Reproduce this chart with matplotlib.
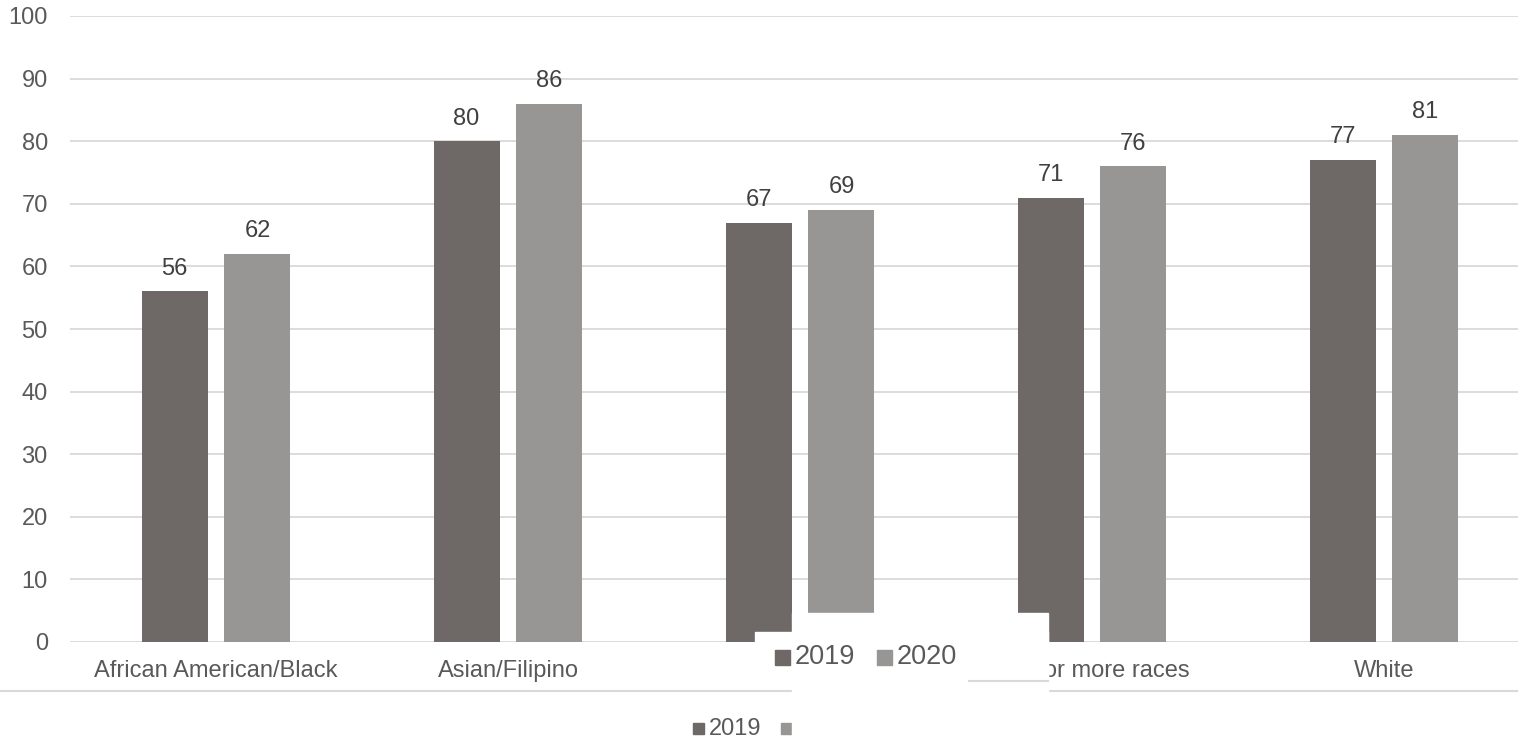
import numpy as np
import matplotlib
matplotlib.use("Agg")
import matplotlib.pyplot as plt
from matplotlib.patches import Rectangle
from matplotlib.lines import Line2D

plt.rcParams["font.family"] = ["Liberation Sans", "DejaVu Sans"]

# data
categories = ["African American/Black", "Asian/Filipino", "Hispanic",
              "Two or more races", "White"]
series_names = ["2019", "2020"]
values_2019 = [56, 80, 67, 71, 77]
values_2020 = [62, 86, 69, 76, 81]
y_ticks = [0, 10, 20, 30, 40, 50, 60, 70, 80, 90, 100]

COLORS = ["#6e6867", "#979695"]
TEXT = "#595959"
LABEL = "#404040"
GRID = "#d9d9d9"

W, H = 1518, 739


def fx(px):
    return px / W


def fy(py):
    return 1 - py / H


fig = plt.figure(figsize=(W / 100, H / 100), dpi=100)
ax = fig.add_axes([fx(70), fy(642), fx(1530) - fx(70), fy(16) - fy(642)])

x = np.arange(len(categories))
width = 0.226
offset = 0.142
for vals, off, color in zip([values_2019, values_2020], [-offset, offset], COLORS):
    bars = ax.bar(x + off, vals, width, color=color, zorder=2)
    for rect, v in zip(bars, vals):
        ax.annotate(str(v), (rect.get_x() + rect.get_width() / 2, v),
                    xytext=(0, 12), textcoords="offset points",
                    ha="center", va="baseline", fontsize=17, color=LABEL)

ax.set_xlim(-0.5, len(categories) - 0.5)
ax.set_ylim(0, 100)
ax.set_yticks(y_ticks)
ax.set_xticks(x)
ax.set_xticklabels(categories)
ax.tick_params(axis="both", length=0, labelsize=17, colors=TEXT)
ax.tick_params(axis="y", pad=16)
ax.tick_params(axis="x", pad=13)
ax.yaxis.grid(True, color=GRID, linewidth=1.3)
ax.set_axisbelow(True)
for s in ax.spines.values():
    s.set_visible(False)
# the middle category label sits completely under the white box
ax.get_xticklabels()[2].set_visible(False)

# line under the category labels
fig.add_artist(Line2D([0, 1], [fy(691), fy(691)], transform=fig.transFigure,
                      color=GRID, linewidth=1.5, zorder=3))

# bottom legend (partly hidden)
fig.add_artist(Rectangle((fx(693), fy(734)), fx(11), 11 / H, transform=fig.transFigure,
                         color=COLORS[0], zorder=3))
fig.text(fx(709), fy(729), series_names[0], fontsize=17, color=TEXT,
         ha="left", va="center")
fig.add_artist(Rectangle((fx(781), fy(734)), fx(11), 11 / H, transform=fig.transFigure,
                         color=COLORS[1], zorder=3))

# white overlay boxes
fig.add_artist(Rectangle((fx(755), fy(688)), fx(1048 - 755), (688 - 632) / H,
                         transform=fig.transFigure, color="white", zorder=5))
fig.add_artist(Rectangle((fx(792), fy(739)), fx(1048 - 792), (739 - 613) / H,
                         transform=fig.transFigure, color="white", zorder=5))
fig.add_artist(Line2D([fx(969), fx(1048)], [fy(681), fy(681)], transform=fig.transFigure,
                      color=GRID, linewidth=1.5, zorder=6))

# legend inside the overlay
for sq_x, txt_x, name, color in zip([775, 877], [795, 897], series_names, COLORS):
    fig.add_artist(Rectangle((fx(sq_x), fy(665)), fx(15), 15 / H,
                             transform=fig.transFigure, color=color, zorder=6))
    fig.text(fx(txt_x), fy(657), name, fontsize=19.5, color=TEXT,
             ha="left", va="center", zorder=7)

fig.savefig("out.png", dpi=100)
